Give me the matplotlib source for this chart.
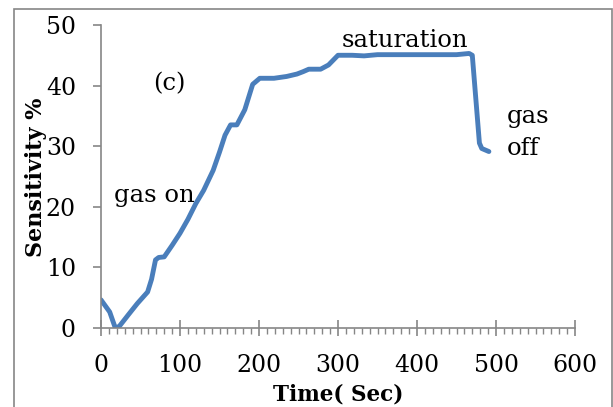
import matplotlib.pyplot as plt
from matplotlib.patches import Rectangle
from matplotlib.ticker import MultipleLocator

# sensor response: time (s) vs sensitivity (%)
time_s = [0, 11, 18, 23, 35, 46, 59, 64, 69, 73, 80, 90, 100, 110, 120, 130, 142,
          150, 157, 164, 172, 182, 192, 201, 219, 235, 248, 256, 263, 278, 288,
          300, 318, 333, 350, 400, 450, 466, 470, 479, 482, 491]
sensitivity = [4.6, 2.6, 0.0, 0.2, 2.2, 4.0, 5.9, 8.0, 11.2, 11.6, 11.7, 13.6, 15.6,
               17.9, 20.5, 22.7, 26.0, 29.0, 31.8, 33.5, 33.5, 36.0, 40.2, 41.2,
               41.2, 41.5, 41.9, 42.3, 42.7, 42.7, 43.4, 45.0, 45.0, 44.9, 45.1,
               45.1, 45.1, 45.3, 45.0, 30.5, 29.6, 29.1]

W, H = 613, 407
fig = plt.figure(figsize=(W / 100, H / 100), dpi=100)
ax = fig.add_axes([101 / W, 1 - 327.7 / H, 474 / W, (327.7 - 25) / H])

serif = 'DejaVu Serif'
ax.plot(time_s, sensitivity, color='#4A7EBB', lw=3.5, solid_capstyle='round',
        solid_joinstyle='round')

ax.set_xlim(0, 600)
ax.set_ylim(0, 50)
ax.xaxis.set_major_locator(MultipleLocator(100))
ax.xaxis.set_minor_locator(MultipleLocator(10))
ax.yaxis.set_major_locator(MultipleLocator(10))

for s in ['top', 'right']:
    ax.spines[s].set_visible(False)
for s in ['left', 'bottom']:
    ax.spines[s].set_color('#868686')
    ax.spines[s].set_linewidth(1.2)

ax.tick_params(axis='x', which='major', direction='inout', length=11.5, width=1.2,
               color='#868686', pad=13, labelsize=17)
ax.tick_params(axis='x', which='minor', direction='out', length=4, width=1.0,
               color='#868686')
ax.tick_params(axis='y', which='major', direction='out', length=6, width=1.2,
               color='#868686', pad=12, labelsize=17)
for lab in ax.get_xticklabels() + ax.get_yticklabels():
    lab.set_fontfamily(serif)

ax.set_xlabel('Time( Sec)', fontfamily=serif, fontweight='bold', fontsize=15.5,
              labelpad=5)
fig.text(36 / W, 1 - 177 / H, 'Sensitivity %', rotation=90, ha='center',
         va='center', fontfamily=serif, fontweight='bold', fontsize=16)

ax.text(304, 46.4, 'saturation', fontfamily=serif, fontsize=17.5, va='baseline')
ax.text(66, 40.3, '(c)', fontfamily=serif, fontsize=17.5, va='center')
ax.text(16, 20.8, 'gas on', fontfamily=serif, fontsize=17.5, va='baseline')
ax.text(514, 33.8, 'gas', fontfamily=serif, fontsize=17.5, va='baseline')
ax.text(514, 28.5, 'off', fontfamily=serif, fontsize=17.5, va='baseline')

# outer frame around the chart area
fig.patches.append(Rectangle((14 / W, -0.02), 598 / W, 1.02 - 9.5 / H,
                             transform=fig.transFigure, fill=False,
                             edgecolor='#868686', lw=1.2))

fig.savefig('out.png', dpi=100)
